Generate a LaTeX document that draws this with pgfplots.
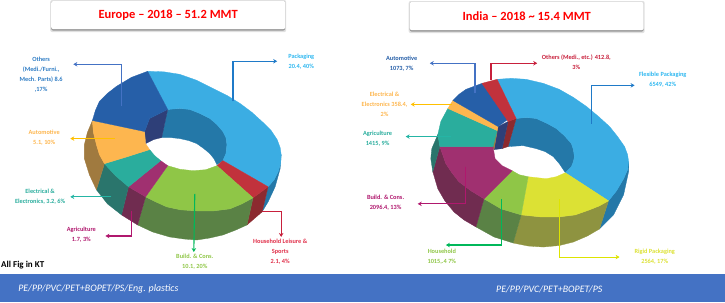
\documentclass[border=0pt]{standalone}
\usepackage{fontspec}
\setmainfont{Carlito}
\usepackage{pgfplots}
\pgfplotsset{compat=1.18}
\usetikzlibrary{arrows.meta}
\definecolor{cBlue}{HTML}{3BADE3}\definecolor{cBlueD}{HTML}{2478A8}
\definecolor{cNavy}{HTML}{265FA8}\definecolor{cNavyD}{HTML}{2E3F78}
\definecolor{cOrg}{HTML}{FDB64F}\definecolor{cOrgD}{HTML}{A07A3F}
\definecolor{cTeal}{HTML}{2AAD9D}\definecolor{cTealD}{HTML}{2A756C}
\definecolor{cMag}{HTML}{A03070}\definecolor{cMagD}{HTML}{702C50}
\definecolor{cGrn}{HTML}{8FC647}\definecolor{cGrnD}{HTML}{5A8245}
\definecolor{cRed}{HTML}{C1323C}\definecolor{cRedD}{HTML}{8C2A2F}
\definecolor{cYel}{HTML}{DCE134}\definecolor{cYelD}{HTML}{8E9340}
\definecolor{band}{HTML}{4472C4}
\definecolor{aBlue}{HTML}{1F7AC8}\definecolor{aYel}{HTML}{FFC000}
\definecolor{aGrn}{HTML}{00B85A}\definecolor{aMag}{HTML}{B0186E}
\definecolor{aRed}{HTML}{C8203C}\definecolor{aTeal}{HTML}{25B5A5}
\definecolor{aLime}{HTML}{DDE400}
\definecolor{tOth}{HTML}{2E7CC4}\definecolor{tRed}{HTML}{E0304A}
\definecolor{tCyan}{HTML}{30B8F0}
\newcommand{\poly}[2]{\addplot[fill=#1,draw=#1,line width=0.3pt] coordinates {#2} --cycle;}
\newcommand{\arr}[2]{\addplot[draw=#1,line width=1.1pt,-{Stealth[length=4pt,width=4.5pt]}] coordinates {#2};}
\newcommand{\lab}[4]{\node[align=center,inner sep=0pt,text=#3,font=\fontsize{6.3}{10}\selectfont\bfseries] at (axis cs:#1,#2) {#4};}
\newcommand{\titlebox}[5]{%
 \fill[black!12,rounded corners=2pt] (axis cs:#1-1,#3-1) rectangle (axis cs:#2+1,#4+3);
 \fill[black!40,rounded corners=2pt] (axis cs:#1,#3) rectangle (axis cs:#2,#4+1.5);
 \fill[white,rounded corners=2pt] (axis cs:#1,#3) rectangle (axis cs:#2,#4);
 \node[text=red,inner sep=0pt,font=\fontsize{12.5}{14}\selectfont\bfseries] at (axis cs:{(#1+#2)/2},{(#3+#4)/2}) {#5};}
\begin{document}
\begin{tikzpicture}
\begin{axis}[scale only axis,width=725bp,height=307bp,xmin=0,xmax=725,ymin=0,ymax=307,y dir=reverse,hide axis,clip=false]
% bottom band
\fill[band] (axis cs:1,277) rectangle (axis cs:723,305);
\node[text=white,anchor=west,inner sep=0pt,font=\fontsize{9.9}{11}\selectfont\itshape] at (axis cs:19,292) {PE/PP/PVC/PET+BOPET/PS/Eng. plastics};
\node[text=white,inner sep=0pt,font=\fontsize{9.9}{11}\selectfont\itshape] at (axis cs:548,292) {PE/PP/PVC/PET+BOPET/PS};
\node[text=black,anchor=west,inner sep=0pt,font=\fontsize{9}{10}\selectfont\bfseries] at (axis cs:2,268) {All Fig in KT};
\titlebox{52}{285}{5}{33}{Europe – 2018 – 51.2 MMT}
\titlebox{409}{642}{6}{34}{India – 2018 \textasciitilde{} 15.4 MMT}

% ===== Europe: outer side walls
\poly{cBlueD}{(281,158)(280.5,167)(278,175)(274,183)(268,190)(262,215)(268,205)(275,190)(280,172)}
\poly{cRedD}{(268,190)(253,201)(247,228)(262,215)}
\poly{cGrnD}{(253,201)(242,207)(230,212)(214,214)(197,214)(181,213)(167,210)(156,205)(146,200)(138,228)(153,235)(170,240)(184,242)(197,243)(210,241)(223,238)(236,233)(247,228)}
\poly{cMagD}{(146,200)(129,190)(122,218)(138,228)}
\poly{cTealD}{(129,190)(116,179)(105,167)(97,193)(108,207)(122,218)}
\poly{cOrgD}{(105,167)(100,158)(97,148)(94,136)(93,124)(88,136)(85,148)(85,162)(90,178)(97,193)}
% ===== Europe: inner walls
\poly{cBlueD}{(168,113)(180,112)(190,113)(200,117)(210,122)(217,128)(223,135)(226,141)(227,148)(226,157)(223,164)(217,168)(214,162)(210,157)(204,152)(197,147)(189,144)(180,142)(171,141)(162,141)}
\poly{cNavyD}{(168,113)(150,122)(145,135)(146,147)(154,143)(162,141)}
% ===== Europe: top faces
\poly{cBlue}{(148,75)(164,75.5)(180,78)(197,84)(213,92)(227,99)(240,107)(252,116)(263,126)(271,134)(277,143)(280,151)(281,158)(280.5,167)(278,175)(274,183)(268,190)(223,164)(226,157)(227,148)(226,141)(223,135)(217,128)(210,122)(200,117)(190,113)(180,112)(168,113)}
\poly{cRed}{(223,164)(268,190)(253,201)(217,169)}
\poly{cGrn}{(168,169)(180,172.5)(193,174)(206,173)(217,169)(253,201)(242,207)(230,212)(214,214)(197,214)(181,213)(167,210)(156,205)(146,200)}
\poly{cMag}{(168,169)(146,200)(129,190)(161,164)}
\poly{cTeal}{(161,164)(129,190)(116,179)(105,167)(128,160)(150,153)(155,159)}
\poly{cOrg}{(93,124)(145,135)(146,147)(150,153)(128,160)(105,167)(100,158)(97,148)(94,136)}
\poly{cNavy}{(93,124)(96,114)(100,105)(108,97)(117,90)(132,81)(148,75)(168,113)(150,122)(145,135)}

% ===== India: outer side walls
\poly{cBlueD}{(627,165)(626,173)(622,182)(615,194)(607,204)(598,232)(612,218)(622,198)(627,175)}
\poly{cYelD}{(607,204)(598,209)(588,213)(574,218)(558,220)(539,220)(520,218)(512,246)(527,249)(542,250)(558,248.5)(572,245)(586,239)(598,232)}
\poly{cGrnD}{(520,218)(500,212)(483,202)(475,230)(493,240)(512,246)}
\poly{cMagD}{(483,202)(470,194)(458,185)(451,176)(445,167)(439,150)(432,175)(437,192)(444,204)(453,215)(463,223)(475,230)}
\poly{cTealD}{(439,150)(437,138)(431,152)(430,162)(432,175)}
% ===== India: inner walls
\poly{cBlueD}{(515,122)(525,121)(535,122)(546,127)(555,132)(563,139)(570,147)(572,153)(573,160)(572,165)(570,170)(564,176)(558,167)(552,160)(544,155)(535,152)(522,149)(507,150)}
\poly{cRedD}{(515,122)(507,125)(501,152)(507,150)}
\poly{cNavyD}{(507,125)(497,130)(493,153)(501,152)}
\poly{cOrgD}{(497,130)(495.5,134)(491,150)(493,153)}
% ===== India: top faces
\poly{cBlue}{(496,83)(510,82)(525,83)(542,87)(558,93)(572,101)(585,110)(597,120)(608,130)(616,140)(623,150)(626,158)(627,165)(626,173)(622,182)(615,194)(607,204)(564,176)(570,170)(572,165)(573,160)(572,153)(570,147)(563,139)(555,132)(546,127)(535,122)(525,121)(515,122)}
\poly{cYel}{(564,176)(607,204)(598,209)(588,213)(574,218)(558,220)(539,220)(520,218)(527,180)(545,182)(555,180)}
\poly{cGrn}{(527,180)(520,218)(500,212)(483,202)(511,174)(518,178)}
\poly{cMag}{(511,174)(483,202)(470,194)(458,185)(451,176)(445,167)(439,150)(492,150)(494,162)(501,169)}
\poly{cTeal}{(439,150)(492,150)(496,134)(447,112)(440,125)(437,138)}
\poly{cOrg}{(447,112)(452,104)(497,130)(496,134)}
\poly{cNavy}{(452,104)(458,98)(465,93)(481,87)(508,122)(497,130)}
\poly{cRed}{(481,87)(496,83)(515,122)(507,125)}

% ===== Europe arrows and labels
\arr{band}{(122,110)(122,68)(74,68)}
\arr{aBlue}{(233,105)(233,65)(277,65)}
\arr{aYel}{(116,142)(71,142)}
\arr{aTeal}{(112,200)(71,200)}
\arr{aMag}{(132,214)(132,239)(106,239)}
\arr{aGrn}{(195,197)(194,255)}
\arr{aRed}{(262,215)(281,215)(281,240)}
\lab{42}{78.5}{tOth}{Others\\(Medi./Furni.,\\Mech. Parts) 8.6\\,17\%}
\lab{301}{65}{tCyan}{Packaging\\20.4, 40\%}
\lab{45}{141}{cOrg}{Automotive\\5.1, 10\%}
\lab{41}{200}{cTeal}{Electrical \&\\Electronics, 3.2, 6\%}
\lab{82}{238}{aMag}{Agriculture\\1.7, 3\%}
\lab{195}{265}{cGrn}{Build. \& Cons.\\10.1, 20\%}
\lab{280}{255}{tRed}{Household Leisure \&\\Sports\\2.1, 4\%}

% ===== India arrows and labels
\arr{band}{(474,97)(474,67)(429,67)}
\arr{aRed}{(490,84)(490,67)(536,67)}
\arr{aBlue}{(590,127)(590,89)(633,89)}
\arr{aYel}{(451,108)(410,108)}
\arr{aTeal}{(450,140)(405,140)}
\arr{aMag}{(465,170)(465,207)(417,207)}
\arr{aGrn}{(500,202)(500,248)(445,248)}
\arr{aLime}{(558,202)(558,260)(618,260)}
\lab{401}{67}{cNavy}{Automotive\\1073, 7\%}
\lab{575}{66}{aRed}{Others (Medi., etc.) 412.8,\\3\%}
\lab{661}{83}{tCyan}{Flexible Packaging\\6549, 42\%}
\lab{384}{107.5}{cOrg}{Electrical \&\\Electronics 358.4,\\2\%}
\lab{377}{142}{cTeal}{Agriculture\\1415, 9\%}
\lab{385}{205.5}{aMag}{Build. \& Cons.\\2096.4, 13\%}
\lab{441}{260}{cGrn}{Household\\1015,.4 7\%}
\lab{653}{260}{cYel}{Rigid Packaging\\2564, 17\%}
\end{axis}
\end{tikzpicture}
\end{document}
